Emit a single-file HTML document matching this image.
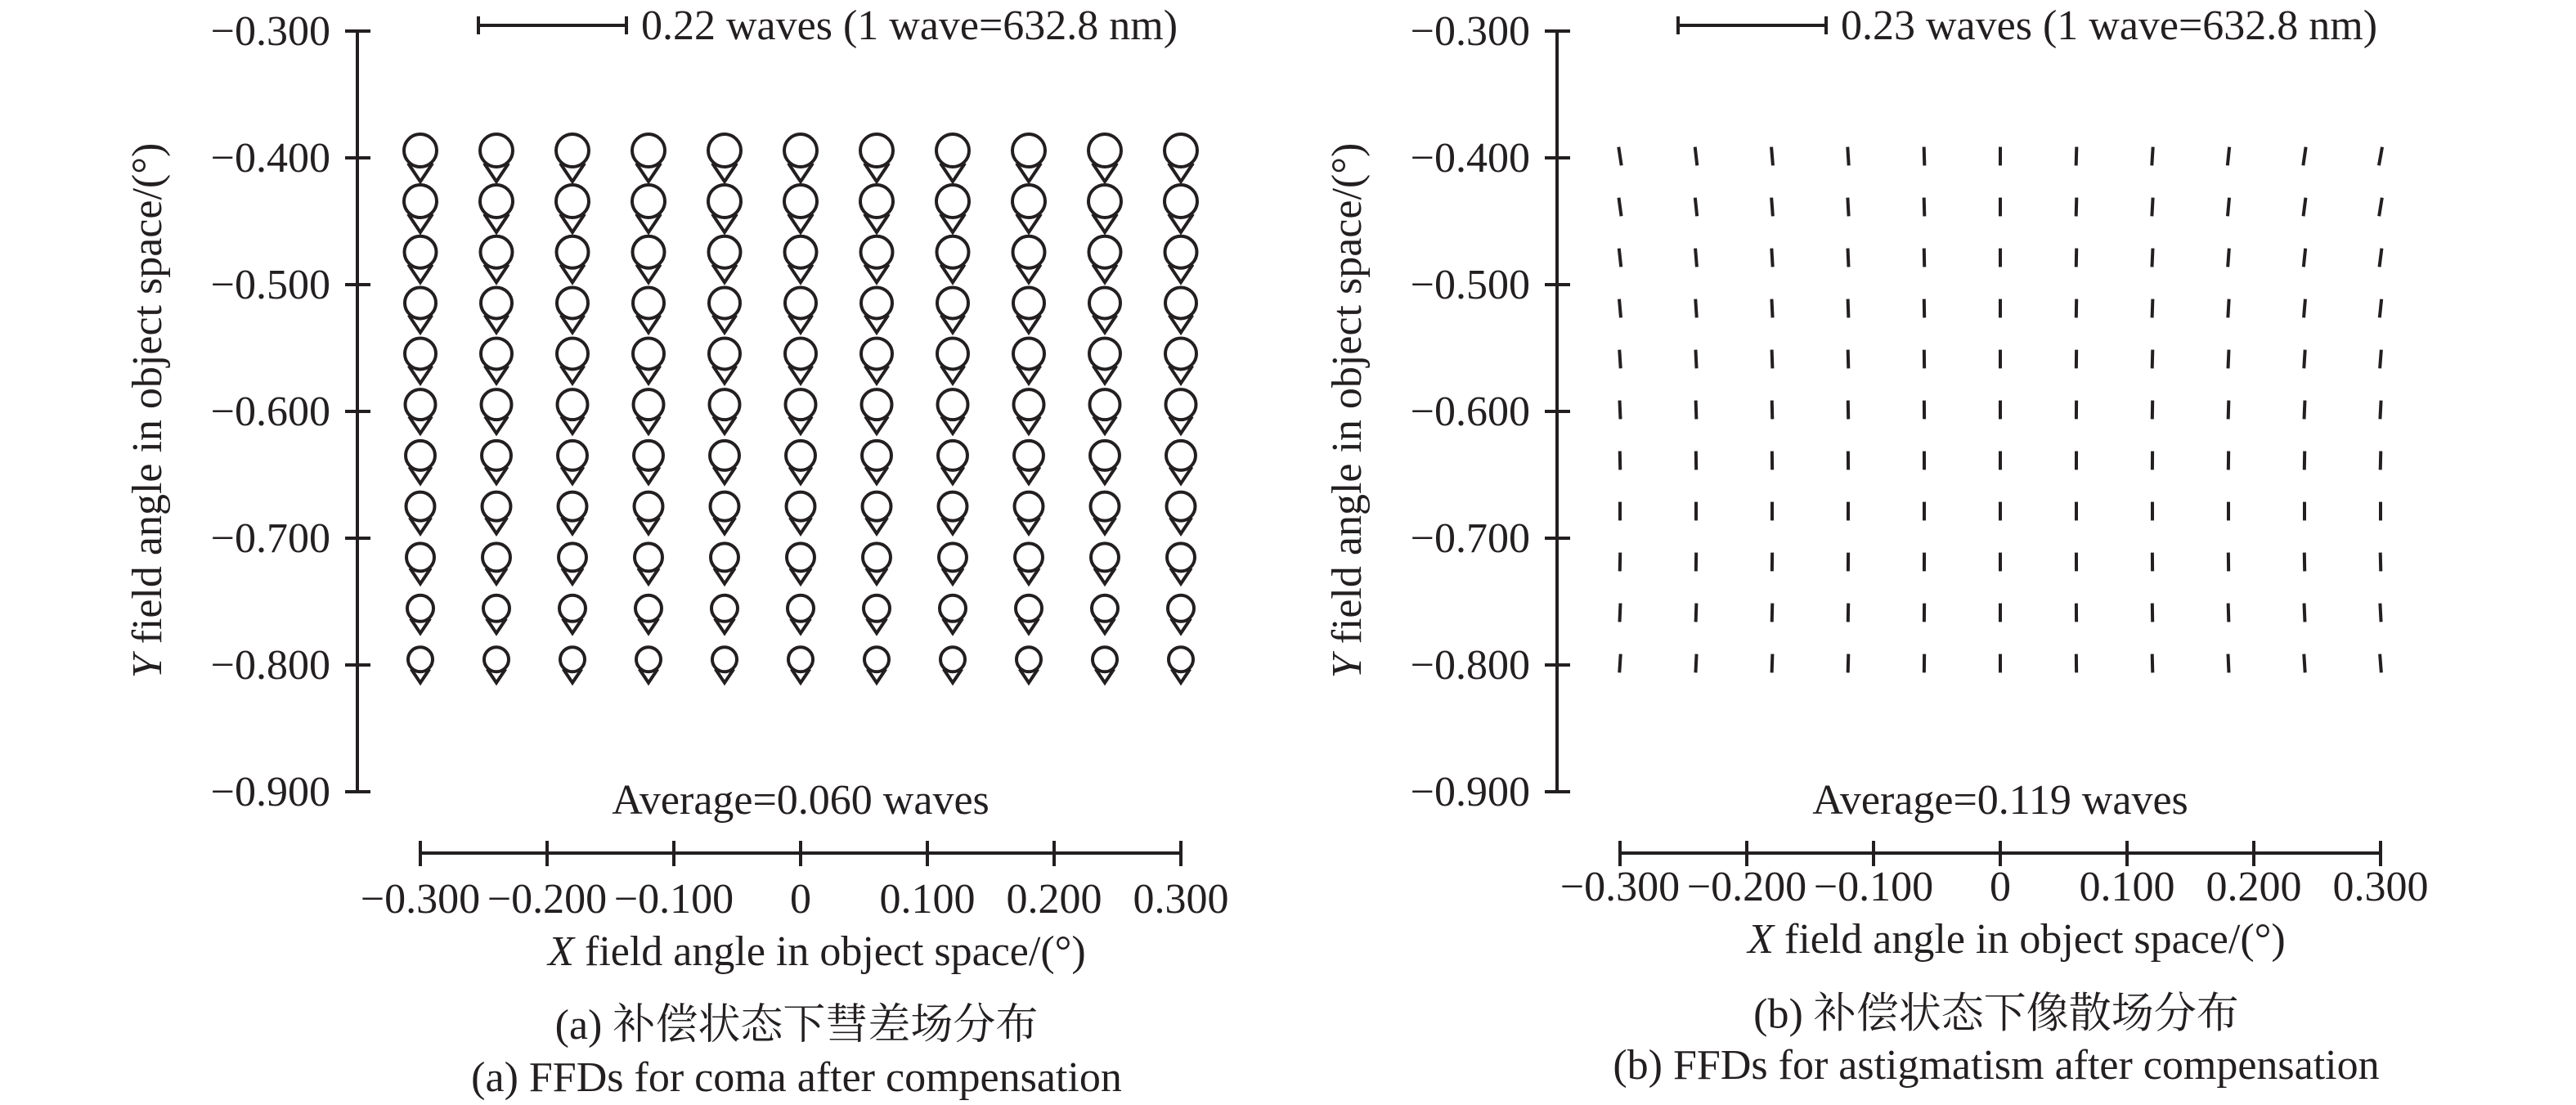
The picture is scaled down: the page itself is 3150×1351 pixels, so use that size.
<!DOCTYPE html>
<html><head><meta charset="utf-8"><title>FFDs</title>
<style>
html,body{margin:0;padding:0;background:#fff;}
svg{display:block;}
text{font-family:"Liberation Serif","Noto Serif CJK SC",serif;fill:#231f20;}
</style></head>
<body>
<svg id="fig" width="3150" height="1351" viewBox="0 0 3150 1351" xmlns="http://www.w3.org/2000/svg">
<g id="pa"></g>
<g id="pb"></g>
</svg>
<script>
const xVals = [-0.30,-0.24,-0.18,-0.12,-0.06,0,0.06,0.12,0.18,0.24,0.30];
const yVals = [-0.40,-0.44,-0.48,-0.52,-0.56,-0.60,-0.64,-0.68,-0.72,-0.76,-0.80];
const yTicks = [-0.3,-0.4,-0.5,-0.6,-0.7,-0.8,-0.9];
const yTickLabels = ["\u22120.300","\u22120.400","\u22120.500","\u22120.600","\u22120.700","\u22120.800","\u22120.900"];
const xTicks = [-0.3,-0.2,-0.1,0,0.1,0.2,0.3];
const xTickLabels = ["\u22120.300","\u22120.200","\u22120.100","0","0.100","0.200","0.300"];
// coma magnitude (waves) per row
const comaMag = [0.0486,0.0486,0.0474,0.0462,0.0462,0.0450,0.0437,0.0425,0.0413,0.0389,0.0365];
// astigmatism line magnitude (waves) per row
const astigMag = [0.058,0.058,0.058,0.058,0.058,0.058,0.058,0.058,0.058,0.058,0.058];
// astigmatism line tilt (degrees) per column, per row
const astigTilt = [
 [8.7,7.8,6.2,5.0,3.7,2.5,1.2,0,-1.2,-2.5,-3.7],
 [6.5,5.9,4.7,3.8,2.8,1.9,0.9,0,-0.9,-1.9,-2.8],
 [4.8,4.3,3.4,2.8,2.0,1.4,0.7,0,-0.7,-1.4,-2.0],
 [3.5,3.1,2.5,2.0,1.5,1.0,0.5,0,-0.5,-1.0,-1.5],
 [1.7,1.6,1.2,1.0,0.7,0.5,0.2,0,-0.2,-0.5,-0.7],
 [0,0,0,0,0,0,0,0,0,0,0],
 [-1.7,-1.6,-1.2,-1.0,-0.7,-0.5,-0.2,0,0.2,0.5,0.7],
 [-3.5,-3.1,-2.5,-2.0,-1.5,-1.0,-0.5,0,0.5,1.0,1.5],
 [-5.8,-5.2,-4.1,-3.3,-2.5,-1.7,-0.8,0,0.8,1.7,2.5],
 [-8.3,-7.4,-5.9,-4.8,-3.5,-2.4,-1.1,0,1.1,2.4,3.5],
 [-10.3,-9.2,-7.3,-5.9,-4.4,-3.0,-1.4,0,1.4,3.0,4.4]
];
const scaleWaves = [0.22, 0.23];
const averages = ["Average=0.060 waves","Average=0.119 waves"];

const NS="http://www.w3.org/2000/svg";
function mk(tag, attrs, parent){const e=document.createElementNS(NS,tag);for(const k in attrs)e.setAttribute(k,attrs[k]);parent.appendChild(e);return e;}
const PXD = 1550; // px per degree
const SCALEPX = 181;

function drawPanel(g, axX, x0, capDy, kind){
  const sx = v => x0 + (v+0.3)*PXD;
  const sy = v => 38 + (-0.3 - v)*PXD;
  const st = {stroke:"#231f20","stroke-width":4,fill:"none"};
  // y axis
  let e = mk("line",Object.assign({x1:axX,y1:sy(-0.3),x2:axX,y2:sy(-0.9)},st),g);
  
  
  yTicks.forEach((v,i)=>{
    let t = mk("line",Object.assign({x1:axX-15,y1:sy(v),x2:axX+16,y2:sy(v)},st),g);
    
    
    let l = mk("text",{x:axX-33,y:sy(v)+17,"font-size":52,"text-anchor":"end"},g);
    l.textContent = yTickLabels[i];
    
    
  });
  // x axis
  const axY = 1043;
  e = mk("line",Object.assign({x1:sx(-0.3),y1:axY,x2:sx(0.3),y2:axY},st),g);
  
  
  xTicks.forEach((v,i)=>{
    let t = mk("line",Object.assign({x1:sx(v),y1:axY-15,x2:sx(v),y2:axY+16},st),g);
    
    
    let l = mk("text",{x:sx(v),y:1116+capDy,"font-size":52,"text-anchor":"middle"},g);
    l.textContent = xTickLabels[i];
    
    
  });
  // scale bar
  const bx = axX+148, wv = scaleWaves[kind];
  let sb = mk("path",Object.assign({d:`M${bx},20 V42 M${bx},31 H${bx+SCALEPX} M${bx+SCALEPX},20 V42`},st),g);
  
  
  let sl = mk("text",{x:bx+SCALEPX+18,y:48,"font-size":52},g);
  sl.textContent = wv.toFixed(2)+" waves (1 wave=632.8 nm)";
  
  
  const pxw = SCALEPX/wv;
  // marks
  xVals.forEach((xv,ci)=>{
    yVals.forEach((yv,ri)=>{
      const cx=sx(xv), cy=sy(yv);
      if(kind===0){
        const r = comaMag[ri]*pxw/2*0.22/0.22;
        const c = cy-0.45*r;
        const m = mk("g",{},g);
        
        
        mk("path",Object.assign({d:`M${cx-0.75*r},${c+0.78*r} L${cx},${c+1.9*r} L${cx+0.75*r},${c+0.78*r}`,"stroke-linejoin":"miter"},st),m);
        mk("circle",Object.assign({cx:cx,cy:c,r:r},st),m);
      } else {
        const L = astigMag[ri]*pxw/2;
        const a = astigTilt[ci][ri]*Math.PI/180;
        const c = cy-2;
        const dx = Math.sin(a)*L/2, dy=Math.cos(a)*L/2;
        const ln = mk("line",Object.assign({x1:cx-dx,y1:c-dy,x2:cx+dx,y2:c+dy},st),g);
        
        
      }
    });
  });
  // average
  let av = mk("text",{x:sx(0),y:995,"font-size":52,"text-anchor":"middle"},g);
  av.textContent = averages[kind];
  
  
  // axis titles
  let xt = mk("text",{x:sx(0)+20,y:1180+capDy,"font-size":52,"text-anchor":"middle"},g);
  xt.innerHTML = '<tspan font-style="italic">X</tspan> field angle in object space/(°)';
  
  
  let yt = mk("text",{x:0,y:0,"font-size":52,"text-anchor":"middle",transform:`translate(${axX-240},502) rotate(-90)`},g);
  yt.innerHTML = '<tspan font-style="italic">Y</tspan> field angle in object space/(°)';
  
  
  // captions
  let c1 = mk("text",{x:sx(0)-5,y:1270+capDy*0.9,"font-size":52,"text-anchor":"middle"},g);
  c1.textContent = kind===0 ? "(a) 补偿状态下彗差场分布" : "(b) 补偿状态下像散场分布";
  
  
  let c2 = mk("text",{x:sx(0)-5,y:1334+capDy,"font-size":52,"text-anchor":"middle"},g);
  c2.textContent = kind===0 ? "(a) FFDs for coma after compensation" : "(b) FFDs for astigmatism after compensation";
  
  
}
drawPanel(document.getElementById('pa'), 437, 514, 0, 0);
drawPanel(document.getElementById('pb'), 1904, 1981, -15, 1);
</script>
</body></html>
